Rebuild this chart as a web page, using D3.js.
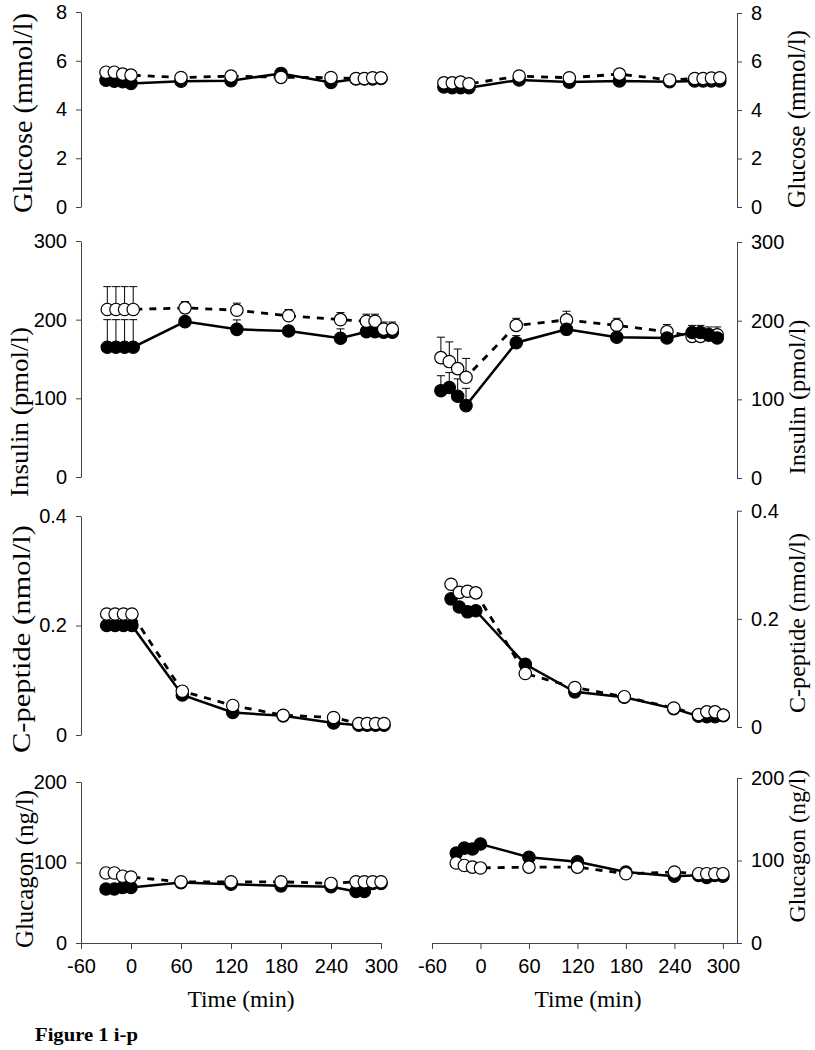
<!DOCTYPE html>
<html>
<head>
<meta charset="utf-8">
<script src="https://cdn.jsdelivr.net/npm/d3@7"></script>
<style>
  html, body { margin: 0; padding: 0; background: #fff; }
  svg { display: block; }
</style>
</head>
<body>
<svg id="chart" width="815" height="1050"></svg>
<script>
// ---------------- DATA ----------------
const time = [-30, -20, -10, 0, 60, 120, 180, 240, 270, 280, 290, 300];
const xTicks = [-60, 0, 60, 120, 180, 240, 300];

const glucoseTicks = [0, 2, 4, 6, 8];
const insulinTicks = [0, 100, 200, 300];
const cpeptideTicks = [0, 0.2, 0.4];
const glucagonTicks = [0, 100, 200];

// Left column
const glucoseL_closed = [5.20, 5.16, 5.14, 5.07, 5.16, 5.18, 5.48, 5.11, 5.25, 5.25, 5.25, 5.27];
const glucoseL_open   = [5.53, 5.53, 5.45, 5.41, 5.31, 5.37, 5.32, 5.31, 5.27, 5.27, 5.30, 5.30];

const insulinL_closed     = [165, 165, 165, 165, 197.5, 187.7, 185.6, 176.3, 184.7, 184.7, 184, 184];
const insulinL_closed_sem = [35, 35, 35, 35, 5, 12, 5, 12, 5, 5, 5, 5];
const insulinL_open       = [213, 213, 213, 213, 215, 212, 205, 200, 198, 198, 188, 188];
const insulinL_open_sem   = [29, 29, 29, 29, 8, 9, 8, 9, 9, 9, 9, 9];

const cpeptideL_closed = [0.200, 0.200, 0.200, 0.200, 0.073, 0.041, 0.035, 0.022, 0.018, 0.018, 0.018, 0.018];
const cpeptideL_open   = [0.221, 0.221, 0.221, 0.221, 0.080, 0.054, 0.036, 0.032, 0.021, 0.021, 0.021, 0.021];

const glucagonL_closed = [67, 67, 69, 69, 75, 73, 71, 70, 64, 64, 74, 74];
const glucagonL_open   = [87, 87, 83, 82, 76, 76, 76, 74, 76, 76, 76, 76];

// Right column
const glucoseR_closed = [4.95, 4.92, 4.92, 4.92, 5.24, 5.15, 5.20, 5.17, 5.20, 5.20, 5.20, 5.20];
const glucoseR_open   = [5.12, 5.12, 5.15, 5.08, 5.40, 5.33, 5.48, 5.24, 5.30, 5.30, 5.32, 5.33];

const insulinR_closed     = [111, 115, 104, 92, 172, 189, 179, 178, 185, 185, 182, 178];
const insulinR_closed_sem = [19, 19, 22, 22, 9, 5, 5, 5, 5, 5, 5, 5];
const insulinR_open       = [153, 148, 139, 128, 194, 201, 194, 186, 180, 180, 182, 182];
const insulinR_open_sem   = [26, 25, 25, 24, 9, 11, 9, 9, 14, 14, 10, 10];

const cpeptideR_closed = [0.237, 0.222, 0.213, 0.215, 0.116, 0.065, 0.055, 0.034, 0.020, 0.019, 0.019, 0.021];
const cpeptideR_open   = [0.264, 0.249, 0.251, 0.248, 0.099, 0.073, 0.056, 0.035, 0.023, 0.028, 0.028, 0.022];

const glucagonR_closed     = [109, 115, 114, 120, 104, 98.5, 86, 81, 82, 79.5, 82, 81];
const glucagonR_closed_sem = [3, 3, 3, 3, 5, 4, 4, 2, 2, 2, 2, 2];
const glucagonR_open       = [97, 94, 92, 91, 92, 92, 84, 86, 84, 84, 84, 84];

const labels = {
  glucose: "Glucose (mmol/l)",
  insulin: "Insulin (pmol/l)",
  cpeptide: "C-peptide (nmol/l)",
  glucagon: "Glucagon (ng/l)"
};
const xLabel = "Time (min)";
const figureLabel = "Figure 1 i-p";

// ---------------- LAYOUT ----------------
const panels = [
  // left column
  { side: "L", label: labels.glucose, ticks: glucoseTicks, yMax: 8, yR: [207, 12], xD: [-60, 300], xR: [81, 381], axisX: 81,
    closed: glucoseL_closed, open: glucoseL_open, lab: { x: 32, y: 113, len: 200, fs: 28 } },
  { side: "L", label: labels.insulin, ticks: insulinTicks, yMax: 300, yR: [477, 241], xD: [-60, 300], xR: [81.4, 392.3], axisX: 81,
    closed: insulinL_closed, closedSem: insulinL_closed_sem, open: insulinL_open, openSem: insulinL_open_sem,
    lab: { x: 28, y: 412, len: 170, fs: 25 } },
  { side: "L", label: labels.cpeptide, ticks: cpeptideTicks, yMax: 0.4, yR: [735, 516], xD: [-60, 300], xR: [81.5, 384], axisX: 81,
    closed: cpeptideL_closed, open: cpeptideL_open, lab: { x: 30, y: 639, len: 228, fs: 26 } },
  { side: "L", label: labels.glucagon, ticks: glucagonTicks, yMax: 200, yR: [943, 782], xD: [-60, 300], xR: [81, 381], axisX: 81,
    closed: glucagonL_closed, open: glucagonL_open, xAxis: true, lab: { x: 33, y: 869, len: 158, fs: 25 } },
  // right column
  { side: "R", label: labels.glucose, ticks: glucoseTicks, yMax: 8, yR: [207, 13], xD: [-60, 300], xR: [418.8, 719.8], axisX: 737,
    closed: glucoseR_closed, open: glucoseR_open, lab: { x: 805, y: 119, len: 178, fs: 25 } },
  { side: "R", label: labels.insulin, ticks: insulinTicks, yMax: 300, yR: [478, 242], xD: [-60, 300], xR: [415.8, 717.2], axisX: 737,
    closed: insulinR_closed, closedSem: insulinR_closed_sem, open: insulinR_open, openSem: insulinR_open_sem, closedOnTop: true,
    lab: { x: 805, y: 397, len: 155, fs: 24 } },
  { side: "R", label: labels.cpeptide, ticks: cpeptideTicks, yMax: 0.4, yR: [727, 510.7], xD: [-60, 300], xR: [426.3, 723.3], axisX: 737,
    closed: cpeptideR_closed, open: cpeptideR_open, lab: { x: 805, y: 623, len: 180, fs: 24 } },
  { side: "R", label: labels.glucagon, ticks: glucagonTicks, yMax: 200, yR: [943, 778], xD: [-60, 317.5], xR: [432, 737], axisX: 737,
    closed: glucagonR_closed, closedSem: glucagonR_closed_sem, open: glucagonR_open, xAxis: true,
    lab: { x: 805, y: 846, len: 153, fs: 24 } }
];

const xLabels = [ { x: 241, y: 1007 }, { x: 588, y: 1007 } ];

// ---------------- DRAW ----------------
const svg = d3.select("#chart");
const AXIS_COLOR = "#444";
const R = 6.2;
const SERIF = "'Liberation Serif', 'Times New Roman', serif";
const SANS = "'Liberation Sans', Arial, sans-serif";

panels.forEach(p => {
  const x = d3.scaleLinear().domain(p.xD).range(p.xR);
  const y = d3.scaleLinear().domain([0, p.yMax]).range(p.yR);
  const g = svg.append("g");

  // y axis
  const axis = (p.side === "L" ? d3.axisLeft(y) : d3.axisRight(y))
    .tickValues(p.ticks).tickSize(5).tickSizeOuter(0).tickPadding(9)
    .tickFormat(d => String(d));
  const ag = g.append("g").attr("transform", `translate(${p.axisX},0)`).call(axis);
  ag.select(".domain").attr("stroke", AXIS_COLOR).attr("stroke-width", 1);
  ag.selectAll(".tick line").attr("stroke", AXIS_COLOR);
  ag.selectAll(".tick text").attr("fill", "#000")
    .style("font-family", SANS).style("font-size", "20px");

  // x axis
  if (p.xAxis) {
    const xa = d3.axisBottom(x).tickValues(xTicks).tickSize(6).tickSizeOuter(0).tickPadding(10)
      .tickFormat(d => String(d));
    const xg = g.append("g").attr("transform", `translate(0,${p.yR[0]})`).call(xa);
    xg.select(".domain").attr("stroke", AXIS_COLOR);
    xg.selectAll(".tick line").attr("stroke", AXIS_COLOR);
    xg.selectAll(".tick text").attr("fill", "#000")
      .style("font-family", SANS).style("font-size", "20px");
  }

  // y label
  g.append("text")
    .attr("transform", `translate(${p.lab.x},${p.lab.y}) rotate(-90)`)
    .attr("text-anchor", "middle")
    .attr("textLength", p.lab.len)
    .attr("lengthAdjust", "spacingAndGlyphs")
    .style("font-family", SERIF)
    .style("font-size", p.lab.fs + "px")
    .text(p.label);

  const closedPts = time.map((t, i) => ({ t, v: p.closed[i], s: p.closedSem ? p.closedSem[i] : 0 }));
  const openPts = time.map((t, i) => ({ t, v: p.open[i], s: p.openSem ? p.openSem[i] : 0 }));

  // error bars (upper only, with cap)
  [closedPts, openPts].forEach(pts => {
    pts.filter(d => d.s > 0).forEach(d => {
      const cx = x(d.t), y0 = y(d.v), y1 = y(d.v + d.s);
      g.append("line").attr("x1", cx).attr("x2", cx).attr("y1", y0).attr("y2", y1)
        .attr("stroke", "#000").attr("stroke-width", 1);
      g.append("line").attr("x1", cx - 4).attr("x2", cx + 4).attr("y1", y1).attr("y2", y1)
        .attr("stroke", "#000").attr("stroke-width", 1);
    });
  });

  const line = d3.line().x(d => x(d.t)).y(d => y(d.v));
  g.append("path").datum(closedPts).attr("d", line)
    .attr("fill", "none").attr("stroke", "#000").attr("stroke-width", 2.5);
  g.append("path").datum(openPts).attr("d", line)
    .attr("fill", "none").attr("stroke", "#000").attr("stroke-width", 2.8)
    .attr("stroke-dasharray", "7,7");

  const drawMarkers = (pts, fill) => {
    g.append("g").selectAll("circle").data(pts).join("circle")
      .attr("cx", d => x(d.t)).attr("cy", d => y(d.v)).attr("r", R)
      .attr("fill", fill).attr("stroke", "#000").attr("stroke-width", 1.2);
  };
  if (p.closedOnTop) { drawMarkers(openPts, "#fff"); drawMarkers(closedPts, "#000"); }
  else { drawMarkers(closedPts, "#000"); drawMarkers(openPts, "#fff"); }
});

// x labels
xLabels.forEach(l => {
  svg.append("text").attr("x", l.x).attr("y", l.y).attr("text-anchor", "middle")
    .attr("textLength", 107).attr("lengthAdjust", "spacingAndGlyphs")
    .style("font-family", SERIF).style("font-size", "23px")
    .text(xLabel);
});

svg.append("text").attr("x", 35).attr("y", 1041)
  .attr("textLength", 103).attr("lengthAdjust", "spacingAndGlyphs")
  .style("font-family", SERIF).style("font-size", "19px")
  .style("font-weight", "bold")
  .text(figureLabel);
</script>
</body>
</html>
